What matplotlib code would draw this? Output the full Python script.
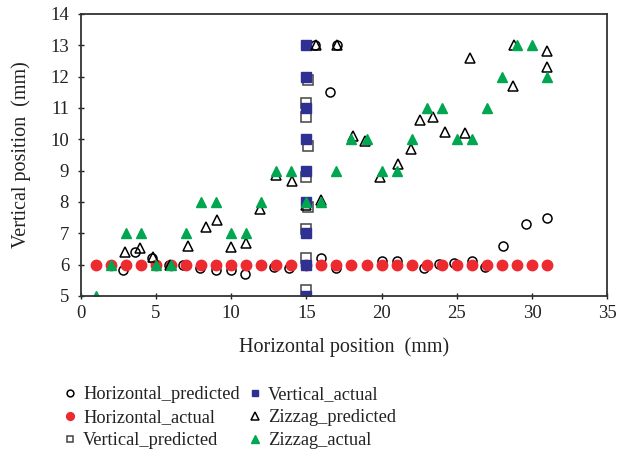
import matplotlib
matplotlib.use('Agg')
import matplotlib.pyplot as plt

plt.rcParams['font.family'] = ['Liberation Serif', 'DejaVu Serif']

# Horizontal path
hor_pred_x = [2.8, 3.6, 4.75, 5.85, 6.8, 7.95, 9.0, 10.0, 10.95, 12.85, 13.85, 15.6, 16.0,
              16.6, 17.0, 17.05, 20.0, 21.0, 22.8, 23.8, 24.8, 26.0, 26.85, 28.1, 29.6, 31.0]
hor_pred_y = [5.83, 6.4, 6.2, 6.0, 6.0, 5.9, 5.83, 5.83, 5.7, 5.92, 5.9, 13.0, 6.2,
              11.5, 5.88, 13.0, 6.1, 6.1, 5.9, 6.03, 6.05, 6.1, 5.92, 6.6, 7.3, 7.5]
hor_act_x = list(range(1, 32))
hor_act_y = [6] * 31

# Vertical path
ver_pred_x = [15.0, 15.0, 15.0, 15.1, 15.0, 15.1, 15.0, 15.0, 15.1]
ver_pred_y = [5.2, 6.2, 7.15, 7.85, 8.8, 9.8, 10.7, 11.15, 11.9]
ver_act_x = [15] * 9
ver_act_y = [5, 6, 7, 8, 9, 10, 11, 12, 13]

# Zigzag path
zig_pred_x = [2.97, 3.93, 4.8, 5.9, 7.14, 8.32, 9.03, 9.99, 10.98, 11.92, 13.0, 14.07, 15.0,
              16.0, 15.64, 17.06, 18.1, 18.9, 19.9, 21.08, 21.95, 22.57, 23.45, 24.23,
              25.57, 25.9, 28.74, 28.83, 31.0, 31.0]
zig_pred_y = [6.41, 6.52, 6.23, 6.0, 6.6, 7.19, 7.43, 6.57, 6.7, 7.77, 8.86, 8.68, 7.9,
              8.06, 13.0, 13.0, 10.12, 9.93, 8.79, 9.21, 9.7, 10.62, 10.72, 10.22,
              10.2, 12.59, 11.71, 13.0, 12.82, 12.32]
zig_act_x = list(range(1, 32))
zig_act_y = [5, 6, 7, 7, 6, 6, 7, 8, 8, 7, 7, 8, 9, 9, 8, 8, 9, 10, 10, 9, 9, 10, 11, 11,
             10, 10, 11, 12, 13, 13, 12]

red = '#ED2A30'
blue = '#2E3192'
green = '#00A650'

fig = plt.figure(figsize=(6.17, 4.51), dpi=100)
ax = fig.add_axes([0.131, 0.344, 0.853, 0.625])

ax.plot(hor_pred_x, hor_pred_y, 'o', ms=6.5, mfc='none', mec='black', mew=1.1,
        ls='none', label='Horizontal_predicted')
ax.plot(hor_act_x, hor_act_y, 'o', ms=7.5, color=red, mec=red, ls='none',
        label='Horizontal_actual')
ax.plot(ver_pred_x, ver_pred_y, 's', ms=6.5, mfc='none', mec='#444444', mew=1.1,
        ls='none', label='Vertical_predicted')
ax.plot(ver_act_x, ver_act_y, 's', ms=6.5, color=blue, mec=blue, ls='none',
        label='Vertical_actual')
ax.plot(zig_pred_x, zig_pred_y, '^', ms=7, mfc='none', mec='black', mew=1.1,
        ls='none', label='Zizzag_predicted')
ax.plot(zig_act_x, zig_act_y, '^', ms=7.5, color=green, mec=green, ls='none',
        label='Zizzag_actual')

ax.set_xlim(0, 35)
ax.set_ylim(5, 14)
ax.set_xticks(range(0, 36, 5))
ax.set_yticks(range(5, 15))
ax.tick_params(direction='inout', length=5, width=1, labelsize=13.5, colors='#222222')
ax.tick_params(axis='x', pad=4)
ax.tick_params(axis='y', pad=6)
for s in ax.spines.values():
    s.set_color('#333333')
    s.set_linewidth(1.3)

ax.set_xlabel('Horizontal position  (mm)', fontsize=14.5, color='#222222', labelpad=11)
ax.set_ylabel('Vertical position  (mm)', fontsize=14.5, color='#222222', labelpad=14)

leg = fig.legend(loc='upper left', bbox_to_anchor=(0.09, 0.16), ncol=2, frameon=False,
                 fontsize=13.2, handlelength=0.8, handletextpad=0.3, columnspacing=0.45,
                 labelspacing=0.33, borderaxespad=0, markerscale=0.75)
for t in leg.get_texts():
    t.set_color('#222222')

fig.savefig('out.png', dpi=100)
